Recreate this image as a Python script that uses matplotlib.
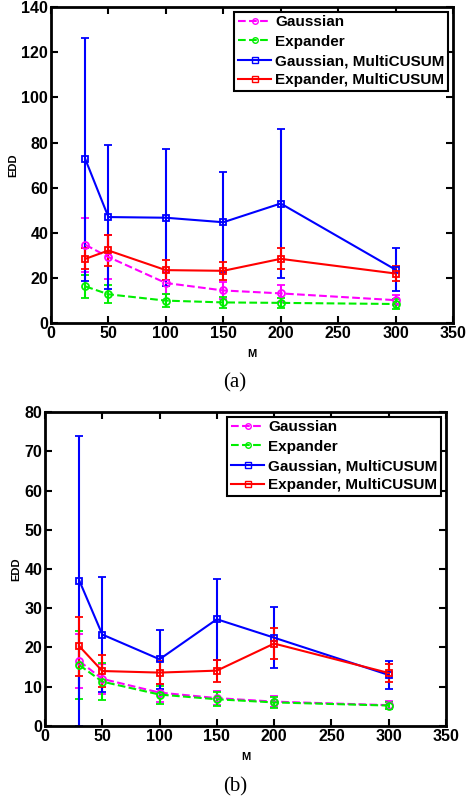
import matplotlib
matplotlib.use("Agg")
import matplotlib.pyplot as plt
from matplotlib.lines import Line2D

M = [30, 50, 100, 150, 200, 300]
labels = ["Gaussian", "Expander", "Gaussian, MultiCUSUM", "Expander, MultiCUSUM"]

# Panel (a)
a_gauss = [34.7, 29.3, 17.8, 14.5, 13.2, 10.2]
a_gauss_err = [12.1, 9.8, 4.8, 3.8, 3.8, 2.3]
a_exp = [16.3, 12.8, 10.0, 9.2, 9.0, 8.5]
a_exp_err = [5.0, 3.9, 2.8, 2.5, 2.2, 2.0]
a_gmc = [72.5, 47.0, 46.7, 44.7, 53.0, 23.7]
a_gmc_err = [54.0, 31.7, 30.3, 22.1, 32.8, 9.5]
a_emc = [28.5, 32.2, 23.5, 23.2, 28.5, 22.0]
a_emc_err = [4.7, 6.8, 4.3, 4.0, 4.7, 3.3]

# Panel (b)
b_gauss = [16.5, 12.0, 8.5, 7.1, 6.2, 5.3]
b_gauss_err = [6.9, 3.8, 2.3, 1.8, 1.4, 1.0]
b_exp = [15.5, 11.3, 8.0, 6.8, 6.0, 5.2]
b_exp_err = [8.7, 4.7, 2.3, 1.8, 1.4, 1.0]
b_gmc = [37.0, 23.3, 17.0, 27.2, 22.5, 13.0]
b_gmc_err = [37.0, 14.7, 7.5, 10.3, 7.7, 3.5]
b_emc = [20.3, 14.0, 13.6, 14.1, 21.0, 13.5]
b_emc_err = [7.5, 4.0, 3.0, 2.8, 4.0, 2.4]

fig = plt.figure(figsize=(4.66, 8.06), dpi=100)
ax_a = fig.add_axes([0.1094, 0.599, 0.972 - 0.1094, 0.9913 - 0.599])
ax_b = fig.add_axes([0.0966, 0.0993, 0.957 - 0.0966, 0.4888 - 0.0993])

styles = [
    ("#ff00ff", "--", "o"),
    ("#00ee00", "--", "o"),
    ("#0000ff", "-", "s"),
    ("#ff0000", "-", "s"),
]

def draw(ax, data, ymax, yticks):
    handles = []
    for (y, e), (c, ls, mk), lab in zip(data, styles, labels):
        ax.errorbar(M, y, yerr=e, color=c, linestyle=ls, marker=mk,
                    markersize=5, markerfacecolor="none", markeredgecolor=c,
                    markeredgewidth=1.3, linewidth=1.5, elinewidth=1.5,
                    capsize=3, capthick=1.5)
        handles.append(Line2D([], [], color=c, linestyle=ls, marker=mk,
                              markersize=4, markerfacecolor="none",
                              markeredgewidth=1.0, linewidth=1.5, label=lab))
    ax.set_xlim(0, 350)
    ax.set_ylim(0, ymax)
    ax.set_xticks(range(0, 351, 50))
    ax.set_yticks(yticks)
    ax.tick_params(direction="in", top=True, right=True, length=5, width=1.5,
                   labelsize=11.5, pad=2)
    for lbl in ax.get_xticklabels() + ax.get_yticklabels():
        lbl.set_fontweight("bold")
        lbl.set_family("Liberation Sans")
    for s in ax.spines.values():
        s.set_linewidth(2)
    ax.set_xlabel("M", fontsize=8, fontweight="bold", family="Liberation Sans", labelpad=6)
    ax.set_ylabel("EDD", fontsize=8, fontweight="bold", family="Liberation Sans", labelpad=2)
    leg = ax.legend(handles=handles, loc="upper right",
                    prop={"family": "Liberation Sans", "weight": "bold", "size": 11},
                    frameon=True, fancybox=False, edgecolor="black", borderpad=0.25,
                    labelspacing=0.35, handlelength=2.2, handletextpad=0.25,
                    borderaxespad=0.3)
    leg.get_frame().set_linewidth(1.5)
    leg.get_frame().set_alpha(1)

draw(ax_a, [(a_gauss, a_gauss_err), (a_exp, a_exp_err), (a_gmc, a_gmc_err), (a_emc, a_emc_err)],
     140, range(0, 141, 20))
draw(ax_b, [(b_gauss, b_gauss_err), (b_exp, b_exp_err), (b_gmc, b_gmc_err), (b_emc, b_emc_err)],
     80, range(0, 81, 10))

fig.text(0.504, 0.525, "(a)", ha="center", va="center", fontsize=15, family="Liberation Serif")
fig.text(0.504, 0.024, "(b)", ha="center", va="center", fontsize=15, family="Liberation Serif")

fig.savefig("out.png", dpi=100)
